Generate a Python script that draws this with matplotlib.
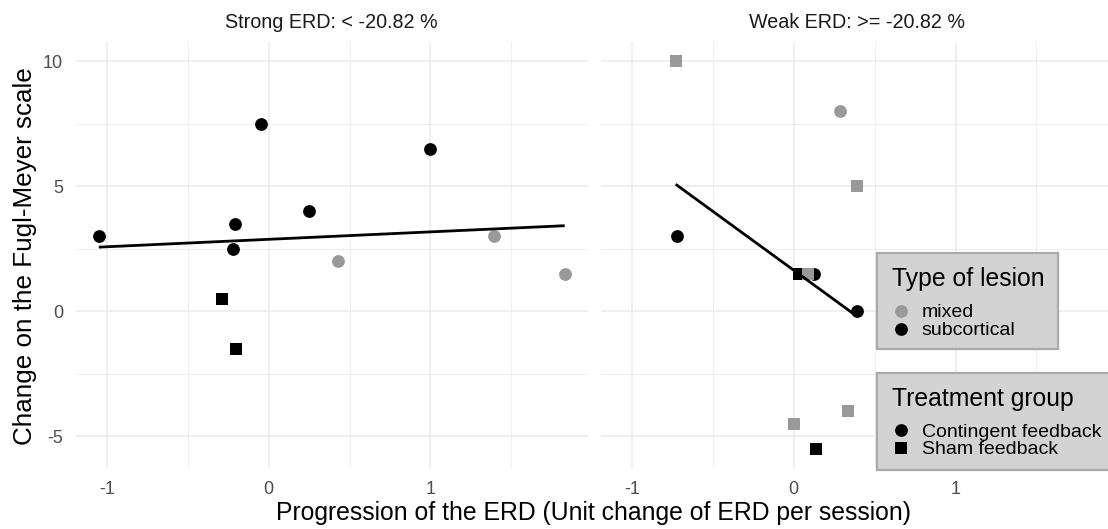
import numpy as np
import matplotlib
matplotlib.use("Agg")
import matplotlib.pyplot as plt
from matplotlib.lines import Line2D
from matplotlib.patches import Rectangle

plt.rcParams['font.family'] = ['Liberation Sans', 'DejaVu Sans']
plt.rcParams['axes.unicode_minus'] = False

W, H = 1108, 529

panel_titles = ["Strong ERD: < -20.82 %", "Weak ERD: >= -20.82 %"]
x_label = "Progression of the ERD (Unit change of ERD per session)"
y_label = "Change on the Fugl-Meyer scale"

# Strong ERD panel
strong_x = [-1.05, -0.05, 1.00, 0.25, -0.21, -0.22, 0.43, 1.39, 1.83, -0.29, -0.20]
strong_y = [3.0, 7.5, 6.5, 4.0, 3.5, 2.5, 2.0, 3.0, 1.5, 0.5, -1.5]
strong_lesion = ["subcortical"] * 6 + ["mixed"] * 3 + ["subcortical"] * 2
strong_group = ["Contingent feedback"] * 9 + ["Sham feedback"] * 2

# Weak ERD panel
weak_x = [-0.72, 0.126, 0.39, 0.285, 0.03, -0.73, 0.39, 0.086, 0.335, 0.0, 0.136]
weak_y = [3.0, 1.5, 0.0, 8.0, 1.5, 10.0, 5.0, 1.5, -4.0, -4.5, -5.5]
weak_lesion = ["subcortical", "subcortical", "subcortical", "mixed", "subcortical",
               "mixed", "mixed", "mixed", "mixed", "mixed", "subcortical"]
weak_group = ["Contingent feedback"] * 4 + ["Sham feedback"] * 7

lesion_levels = ["mixed", "subcortical"]
group_levels = ["Contingent feedback", "Sham feedback"]
lesion_colors = {"mixed": "#999999", "subcortical": "#000000"}
group_markers = {"Contingent feedback": "o", "Sham feedback": "s"}

x_ticks = [-1, 0, 1]
x_minor = [-0.5, 0.5, 1.5]
y_ticks = [-5, 0, 5, 10]
y_minor = [-2.5, 2.5, 7.5]

panels = [
    (strong_x, strong_y, strong_lesion, strong_group),
    (weak_x, weak_y, weak_lesion, weak_group),
]

fig = plt.figure(figsize=(W / 100, H / 100), dpi=100)

def fx(px):
    return px / W

def fy(py):
    return 1 - py / H

# shared limits with 5% expansion
all_x = np.array(strong_x + weak_x)
all_y = np.array(strong_y + weak_y)
xr = all_x.max() - all_x.min()
yr = all_y.max() - all_y.min()
xlim = (all_x.min() - 0.05 * xr, all_x.max() + 0.05 * xr)
ylim = (all_y.min() - 0.05 * yr, all_y.max() + 0.05 * yr)

top, bottom = 41.7, 468.3
lefts = [75.5, 600.6]
pw = 512.5
MS = 9.2

for i, (xs, ys, les, grp) in enumerate(panels):
    ax = fig.add_axes([fx(lefts[i]), fy(bottom), pw / W, (bottom - top) / H])
    ax.set_xlim(*xlim)
    ax.set_ylim(*ylim)
    ax.set_xticks(x_ticks)
    ax.set_xticks(x_minor, minor=True)
    ax.set_yticks(y_ticks)
    ax.set_yticks(y_minor, minor=True)
    ax.set_xticklabels([str(t) for t in x_ticks])
    if i == 0:
        ax.set_yticklabels([str(t) for t in y_ticks])
    else:
        ax.set_yticklabels([])
    ax.tick_params(which='both', length=0)
    ax.tick_params(axis='x', pad=9, labelsize=13, labelcolor='#4D4D4D')
    ax.tick_params(axis='y', pad=9, labelsize=13, labelcolor='#4D4D4D')
    for s in ax.spines.values():
        s.set_visible(False)
    ax.grid(which='major', color='#EBEBEB', lw=1.15)
    ax.grid(which='minor', color='#EBEBEB', lw=0.6)
    ax.set_axisbelow(True)

    for x, y, l, g in zip(xs, ys, les, grp):
        ax.plot([x], [y], marker=group_markers[g], color=lesion_colors[l],
                markersize=MS, markeredgewidth=0, linestyle='none', zorder=3)

    coef = np.polyfit(xs, ys, 1)
    lx = np.array([min(xs), max(xs)])
    ax.plot(lx, np.polyval(coef, lx), color='black', lw=2.0, zorder=4,
            solid_capstyle='butt')

    fig.text(fx(lefts[i] + pw / 2), fy(22.7), panel_titles[i], ha='center',
             va='center', fontsize=14.2, color='#1A1A1A')

fig.text(fx(594), fy(513), x_label, ha='center', va='center', fontsize=17.8)
fig.text(fx(25), fy(256), y_label, ha='center', va='center', fontsize=18.7,
         rotation=90)

# legends
def legend_box(x0, y0, x1, y1, title, title_base, items):
    r = Rectangle((fx(x0), fy(y1)), (x1 - x0) / W, (y1 - y0) / H,
                  transform=fig.transFigure, facecolor='#D3D3D3',
                  edgecolor='#A9A9A9', lw=1.6, zorder=10)
    fig.add_artist(r)
    fig.text(fx(891.7), fy(title_base), title, ha='left', va='baseline',
             fontsize=17.8, color='black', zorder=11)
    for (label, marker, color, cy, base) in items:
        fig.add_artist(Line2D([fx(900.5)], [fy(cy)], marker=marker, color=color,
                              markersize=MS, markeredgewidth=0, linestyle='none',
                              transform=fig.transFigure, zorder=11))
        fig.text(fx(921.7), fy(base), label, ha='left', va='baseline',
                 fontsize=14, color='black', zorder=11)

legend_box(877.3, 253.3, 1058.3, 349.3, "Type of lesion", 285.7, [
    (lesion_levels[0], 'o', lesion_colors[lesion_levels[0]], 310.5, 317.3),
    (lesion_levels[1], 'o', lesion_colors[lesion_levels[1]], 328.5, 335.0),
])
legend_box(877.3, 373.3, 1120, 470, "Treatment group", 405.7, [
    (group_levels[0], group_markers[group_levels[0]], 'black', 430.0, 436.7),
    (group_levels[1], group_markers[group_levels[1]], 'black', 448.0, 454.3),
])

fig.savefig("out.png", dpi=100)
